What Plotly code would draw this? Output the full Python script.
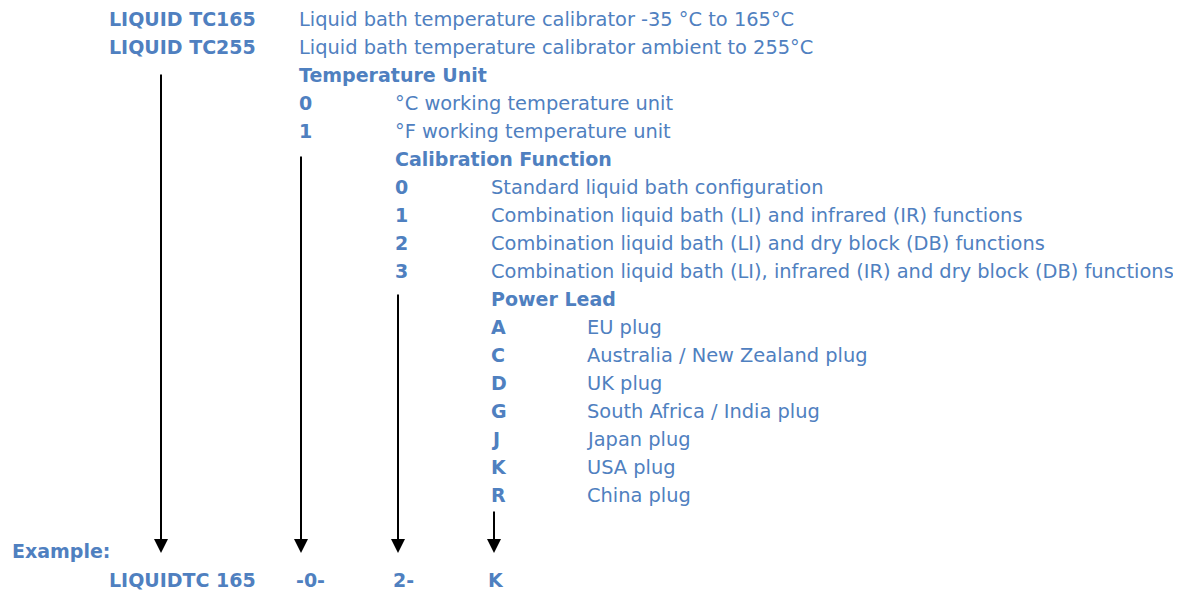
import plotly.graph_objects as go

# ---- data (text content of the ordering-code diagram) ----
products = ["LIQUID TC165", "LIQUID TC255"]
product_desc = ["Liquid bath temperature calibrator -35 °C to 165°C",
                "Liquid bath temperature calibrator ambient to 255°C"]
unit_title = "Temperature Unit"
unit_codes = ["0", "1"]
unit_desc = ["°C working temperature unit", "°F working temperature unit"]
cal_title = "Calibration Function"
cal_codes = ["0", "1", "2", "3"]
cal_desc = ["Standard liquid bath configuration",
            "Combination liquid bath (LI) and infrared (IR) functions",
            "Combination liquid bath (LI) and dry block (DB) functions",
            "Combination liquid bath (LI), infrared (IR) and dry block (DB) functions"]
plug_title = "Power Lead"
plug_codes = ["A", "C", "D", "G", "J", "K", "R"]
plug_desc = ["EU plug", "Australia / New Zealand plug", "UK plug",
             "South Africa / India plug", "Japan plug", "USA plug", "China plug"]
example_label = "Example:"
example_parts = ["LIQUIDTC 165", "-0-", "2-", "K"]

# ---- layout constants ----
W, H = 1181, 593
OFF = 8  # default page body margin
BLUE = "#4f80c0"
FONT = "DejaVu Sans"
FS_REG, FS_BOLD = 19.4, 19
ROW0, STEP = 19, 28
COLS = [107, 297, 393, 489, 585]

fig = go.Figure()
ann = []

def txt(x, y, s, bold=False, anchor="left"):
    ann.append(dict(x=x, y=y, xref="x", yref="y", text=f"<b>{s}</b>" if bold else s,
                    showarrow=False, xanchor=anchor, yanchor="middle",
                    font=dict(family=FONT, size=FS_BOLD if bold else FS_REG, color=BLUE)))

row = 0
for code, desc in zip(products, product_desc):
    txt(COLS[0], ROW0 + STEP * row, code, bold=True)
    txt(COLS[1], ROW0 + STEP * row, desc)
    row += 1

sections = [(unit_title, unit_codes, unit_desc),
            (cal_title, cal_codes, cal_desc),
            (plug_title, plug_codes, plug_desc)]
for k, (title, codes, descs) in enumerate(sections):
    txt(COLS[k + 1], ROW0 + STEP * row, title, bold=True)
    row += 1
    for c, d in zip(codes, descs):
        txt(COLS[k + 1], ROW0 + STEP * row, c, bold=True)
        txt(COLS[k + 2], ROW0 + STEP * row, d)
        row += 1

txt(10, 551, example_label, bold=True)
ex_x = [107, 310, 403, 496]
ex_anchor = ["left", "center", "center", "center"]
for x, s, a in zip(ex_x, example_parts, ex_anchor):
    txt(x, 580, s, bold=True, anchor=a)

# arrows
arrow_x = [161, 301, 398, 494]
arrow_start = [73, 155, 293, 510]
for x, y0 in zip(arrow_x, arrow_start):
    ann.append(dict(x=x, y=553, ax=x, ay=y0, xref="x", yref="y", axref="x", ayref="y",
                    showarrow=True, arrowhead=2, arrowsize=1.4, arrowwidth=2,
                    arrowcolor="black", text=""))

fig.update_layout(
    width=W, height=H, margin=dict(l=0, r=0, t=0, b=0),
    paper_bgcolor="white", plot_bgcolor="white",
    xaxis=dict(range=[OFF, W + OFF], visible=False, fixedrange=True),
    yaxis=dict(range=[H + OFF, OFF], visible=False, fixedrange=True),
    annotations=ann, showlegend=False,
)
fig.write_html("out.html")
